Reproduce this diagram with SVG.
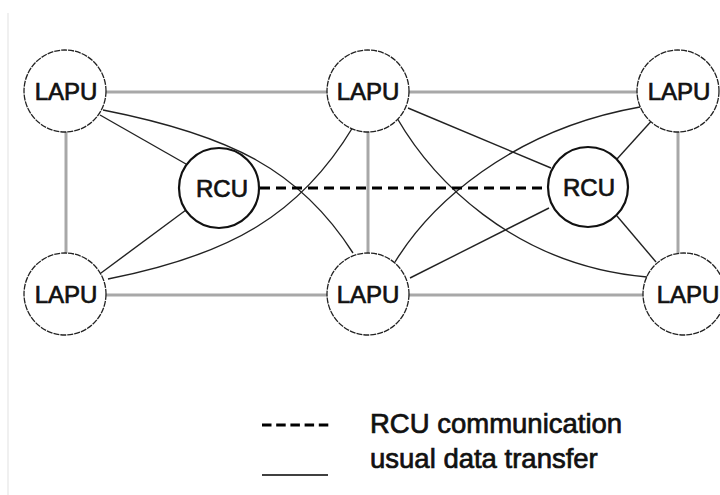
<svg xmlns="http://www.w3.org/2000/svg" width="720" height="495" viewBox="0 0 720 495">
  <style>
    .lapu { fill: #fff; stroke: #222; stroke-width: 1.3; stroke-dasharray: 6 1; }
    .rcu { fill: #fff; stroke: #111; stroke-width: 2.2; }
    .label { font-family: "Liberation Sans", Arial, sans-serif; font-size: 24px; fill: #111; text-anchor: middle; stroke: #111; stroke-width: 0.7; }
    .grid { stroke: #a8a8a8; stroke-width: 3; fill: none; }
    .link { stroke: #222; stroke-width: 1.4; fill: none; }
    .rcucomm { stroke: #000; stroke-width: 3.2; fill: none; stroke-dasharray: 10 6; }
    .legend { font-family: "Liberation Sans", Arial, sans-serif; font-size: 27.5px; fill: #111; stroke: #111; stroke-width: 0.7; }
  </style>
  <rect x="0" y="0" width="720" height="495" fill="#fff"/>
  <line x1="8" y1="13" x2="8" y2="495" stroke="#f0f0f0" stroke-width="2"/>

  <g id="connectors">
    <!-- grey mesh between LAPUs -->
    <line class="grid" x1="65" y1="92" x2="368" y2="92"/>
    <line class="grid" x1="368" y1="92" x2="678" y2="92"/>
    <line class="grid" x1="65" y1="295" x2="368" y2="295"/>
    <line class="grid" x1="368" y1="295" x2="684" y2="295"/>
    <line class="grid" x1="66" y1="92" x2="66" y2="295"/>
    <line class="grid" x1="368" y1="92" x2="368" y2="295"/>
    <line class="grid" x1="678" y1="92" x2="678" y2="295"/>
    <!-- data transfer links -->
    <line class="link" x1="100" y1="115" x2="186" y2="164"/>
    <line class="link" x1="101" y1="273" x2="186" y2="210"/>
    <path class="link" d="M103,110 C230,135 300,170 353,253"/>
    <path class="link" d="M108,279 C230,255 300,215 353,127"/>
    <line class="link" x1="408" y1="108" x2="551" y2="168"/>
    <line class="link" x1="410" y1="278" x2="549" y2="208"/>
    <path class="link" d="M397,118 C430,175 510,265 647,277"/>
    <path class="link" d="M395,262 C430,205 510,130 640,107"/>
    <line class="link" x1="617" y1="159" x2="655" y2="117"/>
    <line class="link" x1="617" y1="216" x2="656" y2="262"/>
    <!-- RCU to RCU communication -->
    <line class="rcucomm" x1="260" y1="188" x2="547" y2="188"/>
  </g>

  <g id="lapu-tl"><circle class="lapu" cx="65" cy="91" r="41"/><text class="label" x="66" y="100">LAPU</text></g>
  <g id="lapu-tm"><circle class="lapu" cx="368" cy="91" r="41"/><text class="label" x="368" y="100">LAPU</text></g>
  <g id="lapu-tr"><circle class="lapu" cx="678" cy="91" r="41"/><text class="label" x="679" y="100">LAPU</text></g>
  <g id="lapu-bl"><circle class="lapu" cx="65" cy="294" r="41"/><text class="label" x="66" y="303">LAPU</text></g>
  <g id="lapu-bm"><circle class="lapu" cx="368" cy="294" r="41"/><text class="label" x="368" y="303">LAPU</text></g>
  <g id="lapu-br"><circle class="lapu" cx="684" cy="294" r="41"/><text class="label" x="688" y="303">LAPU</text></g>
  <g id="rcu-left"><circle class="rcu" cx="219" cy="188" r="40"/><text class="label" x="222" y="197">RCU</text></g>
  <g id="rcu-right"><circle class="rcu" cx="588" cy="187" r="40"/><text class="label" x="589" y="196">RCU</text></g>

  <g id="legend">
    <line x1="262" y1="425" x2="329" y2="425" stroke="#000" stroke-width="3.2" stroke-dasharray="9.5 4.7"/>
    <text class="legend" x="370" y="433">RCU communication</text>
    <line x1="262" y1="475" x2="328" y2="475" stroke="#000" stroke-width="1.5"/>
    <text class="legend" x="370" y="468">usual data transfer</text>
  </g>
</svg>
